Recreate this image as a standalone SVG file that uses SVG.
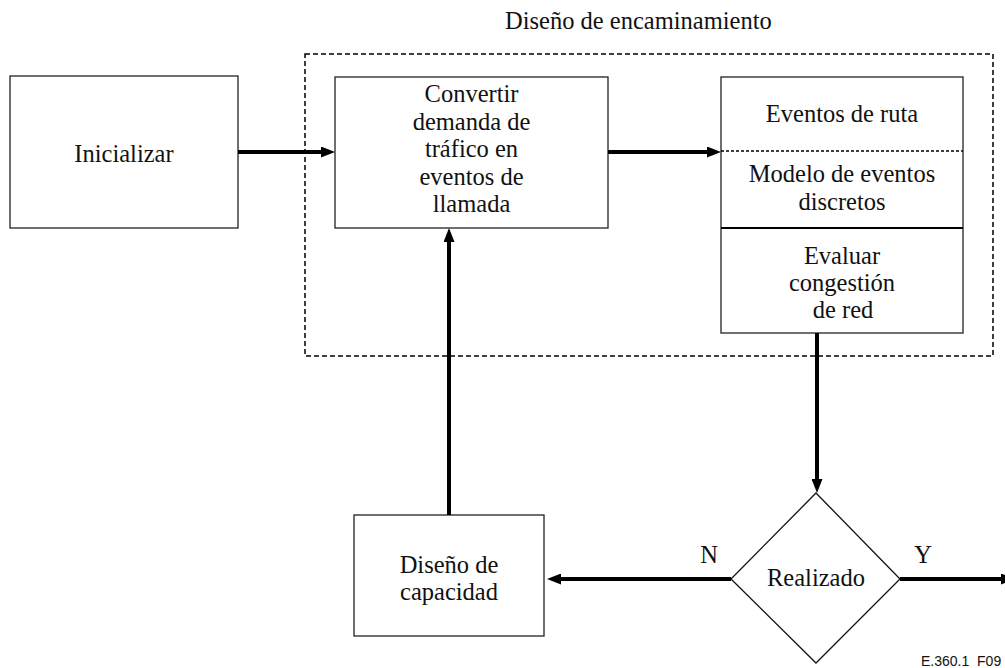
<svg xmlns="http://www.w3.org/2000/svg" width="1005" height="668" viewBox="0 0 1005 668" font-family="Liberation Serif, DejaVu Serif, serif">
<style>
.box{fill:#fff;stroke:#222;stroke-width:1.3}
text.t{font-family:"Liberation Serif",serif;font-size:24.5px;fill:#111;text-anchor:middle}
.c{stroke:#000;stroke-width:4;fill:none}
</style>
<defs>
<marker id="ah" markerUnits="userSpaceOnUse" markerWidth="14" markerHeight="11" refX="4" refY="5.5" orient="auto">
<path d="M0,0 L14,5.5 L0,11 z" fill="#000"/>
</marker>
</defs>
<rect width="1005" height="668" fill="#fff"/>
<g id="routing-design">
<rect x="305" y="54" width="688" height="302" fill="none" stroke="#000" stroke-width="1.5" stroke-dasharray="5,3"/>
<text x="505" y="29" class="t" style="text-anchor:start">Diseño de encaminamiento</text>
</g>
<g id="inicializar">
<rect class="box" x="10" y="76" width="228" height="152"/>
<text class="t" x="124" y="162">Inicializar</text>
</g>
<g id="convertir">
<rect class="box" x="335" y="77" width="273" height="151"/>
<text class="t" x="471.5" y="102">Convertir</text>
<text class="t" x="471.5" y="129.5">demanda de</text>
<text class="t" x="471.5" y="157">tráfico en</text>
<text class="t" x="471.5" y="184.5">eventos de</text>
<text class="t" x="471.5" y="212">llamada</text>
</g>
<g id="simulacion">
<rect class="box" x="721" y="77" width="242" height="256"/>
<line x1="721" y1="151" x2="963" y2="151" stroke="#000" stroke-width="1.5" stroke-dasharray="3,2"/>
<line x1="721" y1="228" x2="963" y2="228" stroke="#000" stroke-width="2"/>
<text class="t" x="842" y="122">Eventos de ruta</text>
<text class="t" x="842" y="182">Modelo de eventos</text>
<text class="t" x="842" y="210">discretos</text>
<text class="t" x="842" y="264">Evaluar</text>
<text class="t" x="842" y="291">congestión</text>
<text class="t" x="843" y="318">de red</text>
</g>
<g id="capacidad">
<rect class="box" x="354" y="515" width="190" height="121"/>
<text class="t" x="449" y="573">Diseño de</text>
<text class="t" x="449" y="600">capacidad</text>
</g>
<g id="realizado">
<polygon points="816,493 900,579 816,663 731,579" fill="#fff" stroke="#111" stroke-width="1.3"/>
<text class="t" x="816" y="586">Realizado</text>
</g>
<g id="connectors">
<line class="c" x1="238" y1="152" x2="325" y2="152" marker-end="url(#ah)"/>
<line class="c" x1="608" y1="152" x2="711" y2="152" marker-end="url(#ah)"/>
<line class="c" x1="817" y1="333" x2="817" y2="483" marker-end="url(#ah)"/>
<line class="c" x1="731" y1="579" x2="557" y2="579" marker-end="url(#ah)"/>
<line class="c" x1="449" y1="515" x2="449" y2="238" marker-end="url(#ah)"/>
<line class="c" x1="900" y1="579" x2="1005" y2="579" marker-end="url(#ah)"/>
<text class="t" x="709" y="563">N</text>
<text class="t" x="923" y="563">Y</text>
</g>
<text x="921" y="666" font-family="Liberation Sans, Arial, sans-serif" font-size="14" fill="#111" xml:space="preserve">E.360.1  F09</text>
</svg>
